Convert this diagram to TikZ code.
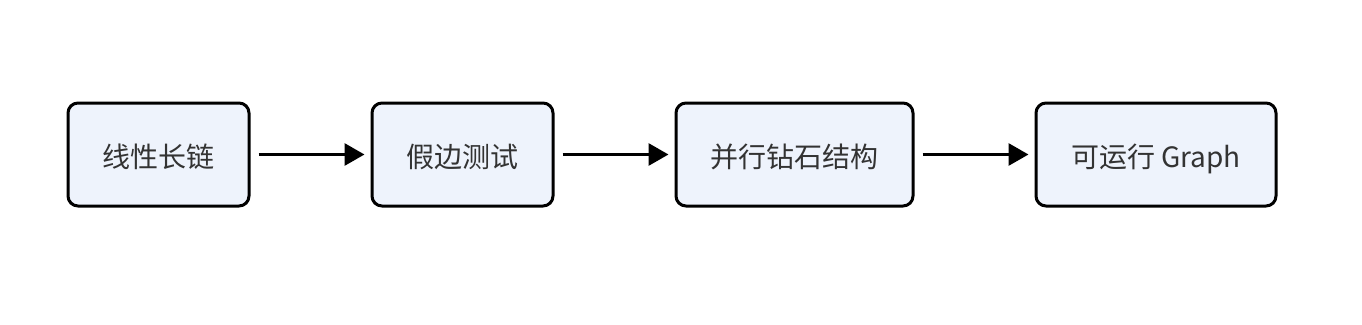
\documentclass[tikz,border=0pt]{standalone}
\usepackage{fontspec}
\setmainfont{Noto Sans CJK SC}
\usetikzlibrary{arrows.meta}
\definecolor{boxfill}{HTML}{EEF3FC}
\definecolor{txt}{HTML}{333333}
\tikzset{
  box/.style={draw=black, line width=3pt, fill=boxfill, rounded corners=10pt, text=txt, font=\fontsize{28}{32}\selectfont, inner sep=0pt, text height=27pt, text depth=1pt},
  conn/.style={line width=3pt, -{Triangle[length=20pt,width=22pt]}, shorten <=8pt, shorten >=6pt}
}
\begin{document}
\begin{tikzpicture}[x=1pt,y=-1pt]
\useasboundingbox (0,0) rectangle (1362,324);
\node[box, minimum width=181pt, minimum height=103pt] (a) at (158.5,154.5) {线性长链};
\node[box, minimum width=181pt, minimum height=103pt] (b) at (462.5,154.5) {假边测试};
\node[box, minimum width=237pt, minimum height=103pt] (c) at (794.5,154.5) {并行钻石结构};
\node[box, minimum width=240pt, minimum height=103pt] (d) at (1156,154.5) {可运行 Graph};
\draw[conn] (a) -- (b);
\draw[conn] (b) -- (c);
\draw[conn] (c) -- (d);
\end{tikzpicture}
\end{document}
